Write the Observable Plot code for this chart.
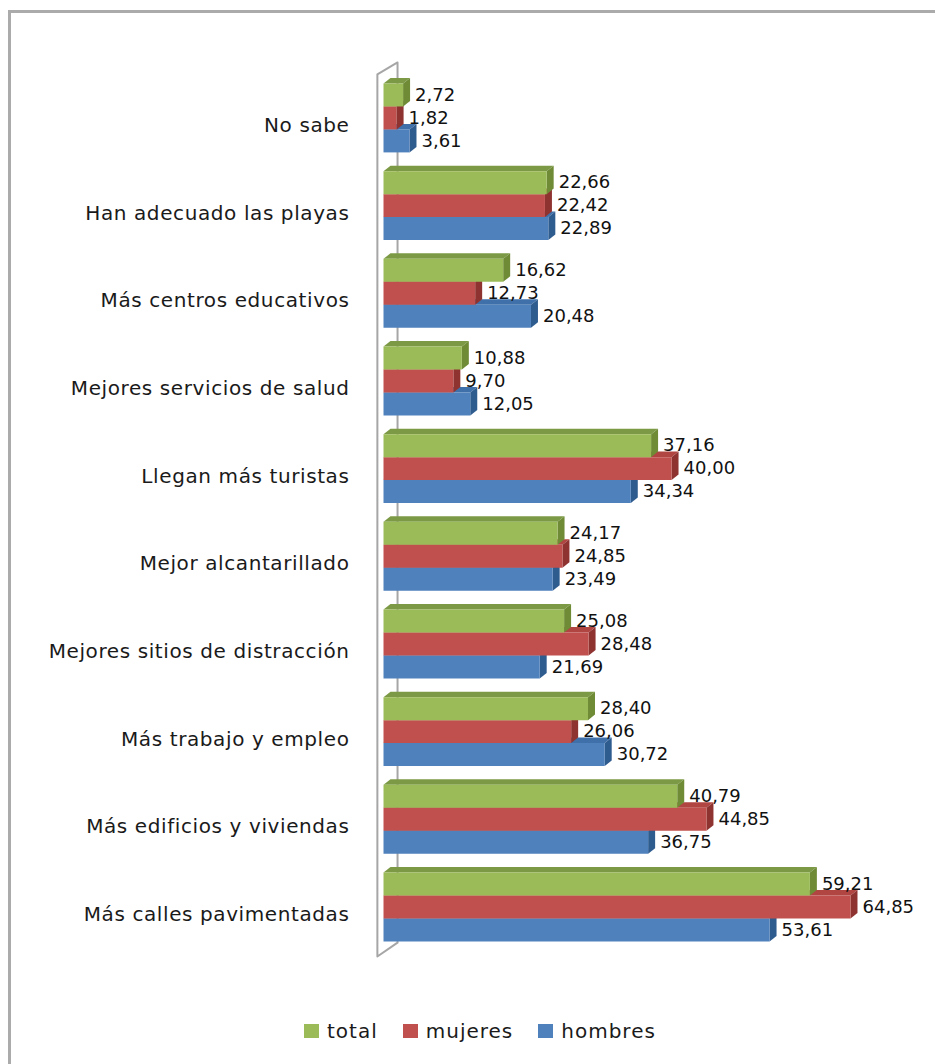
<!DOCTYPE html>
<html lang="es">
<head>
<meta charset="utf-8">
<script src="https://cdn.jsdelivr.net/npm/d3@7"></script>
<script src="https://cdn.jsdelivr.net/npm/@observablehq/plot@0.6"></script>
<style>
  html, body { margin: 0; padding: 0; background: #fff; }
  body { width: 935px; height: 1064px; overflow: hidden; position: relative; }
  #frame { position: absolute; left: 8px; top: 10px; right: 0; bottom: 0; border-left: 3px solid #ababab; border-top: 3px solid #ababab; }
  #chart { position: absolute; left: 0; top: 0; }
  #chart svg { display: block; background: transparent; }
  #chart svg g[aria-label="y-axis tick label"] { letter-spacing: 0.6px; }
  #legend { position: absolute; left: 304px; top: 1016px; height: 30px; display: flex; align-items: center; font: 20px "DejaVu Sans", sans-serif; letter-spacing: 1px; color: #1a1a1a; }
  #legend span.k { display: inline-block; width: 15px; height: 14px; margin-right: 8px; }
  #legend span.t { margin-right: 25px; }
</style>
</head>
<body>
<div id="frame"></div>
<div id="chart"></div>
<div id="legend"></div>
<script>
const categories = ["No sabe", "Han adecuado las playas", "Más centros educativos", "Mejores servicios de salud", "Llegan más turistas", "Mejor alcantarillado", "Mejores sitios de distracción", "Más trabajo y empleo", "Más edificios y viviendas", "Más calles pavimentadas"];
const total   = [2.72, 22.66, 16.62, 10.88, 37.16, 24.17, 25.08, 28.40, 40.79, 59.21];
const mujeres = [1.82, 22.42, 12.73, 9.70, 40.00, 24.85, 28.48, 26.06, 44.85, 64.85];
const hombres = [3.61, 22.89, 20.48, 12.05, 34.34, 23.49, 21.69, 30.72, 36.75, 53.61];
const seriesNames = ["total", "mujeres", "hombres"];
const seriesValues = [total, mujeres, hombres];
const frontColors = ["#9bbb59", "#c0504d", "#4f81bd"];
const topColors   = ["#7c9a45", "#b04542", "#3f70aa"];
const sideColors  = ["#6f8b36", "#8f3331", "#2f5c8f"];

const barH = 0.262, depthX = 0.97, depthY = 0.063;
const faces = [];
// Back series first: blue, red, then green on top
for (let r = 0; r < categories.length; r++) {
  for (let s = 2; s >= 0; s--) {
    const v = seriesValues[s][r];
    const y0 = r + s * barH, y1 = y0 + barH;
    const add = (face, color, pts) => pts.forEach(([x, y]) => faces.push({id: `${r}-${s}-${face}`, color, x, y}));
    add("top", topColors[s], [[0, y0], [depthX, y0 - depthY], [v + depthX, y0 - depthY], [v, y0]]);
    add("side", sideColors[s], [[v, y0], [v + depthX, y0 - depthY], [v + depthX, y1 - depthY], [v, y1]]);
    add("front", frontColors[s], [[0, y0], [v, y0], [v, y1], [0, y1]]);
  }
}
const labels = seriesValues.flatMap((vals, s) => vals.map((v, r) => ({v, y: r + (s + 0.5) * barH})));
const wall = [
  {x: 1.95, y: 9.8}, {x: 1.95, y: -0.24}, {x: -0.85, y: -0.103}, {x: -0.85, y: 9.958}, {x: 1.95, y: 9.8}
];
const labelOffset = 0.48;

const plot = Plot.plot({
  width: 935,
  height: 1010,
  marginLeft: 349,
  marginRight: 0,
  marginTop: 0,
  marginBottom: 0,
  style: {background: "transparent", fontFamily: "'DejaVu Sans', sans-serif", color: "#1a1a1a"},
  x: {domain: [0, 64.85], range: [383, 850], axis: null},
  y: {domain: [0, 9], range: [83, 872], axis: null},
  color: {type: "identity"},
  marks: [
    Plot.line(wall, {x: "x", y: "y", stroke: "#a6a6a6", strokeWidth: 2}),
    Plot.line(faces, {x: "x", y: "y", z: "id", fill: "color", stroke: "none"}),
    Plot.axisY(categories.map((d, i) => i + labelOffset), {
      anchor: "left",
      tickSize: 0,
      tickPadding: 0,
      fontSize: 20,
      label: null,
      tickFormat: d => categories[Math.round(d - labelOffset)]
    }),
    Plot.text(labels, {
      x: "v",
      y: "y",
      text: d => d3.format(".2f")(d.v).replace(".", ","),
      textAnchor: "start",
      lineAnchor: "middle",
      dx: 12,
      dy: 0,
      fontSize: 18,
      fill: "#111"
    })
  ]
});
document.getElementById("chart").appendChild(plot);

const legend = document.getElementById("legend");
seriesNames.forEach((n, i) => {
  const k = document.createElement("span"); k.className = "k"; k.style.background = frontColors[i];
  const t = document.createElement("span"); t.className = "t"; t.textContent = n;
  legend.append(k, t);
});
</script>
</body>
</html>
